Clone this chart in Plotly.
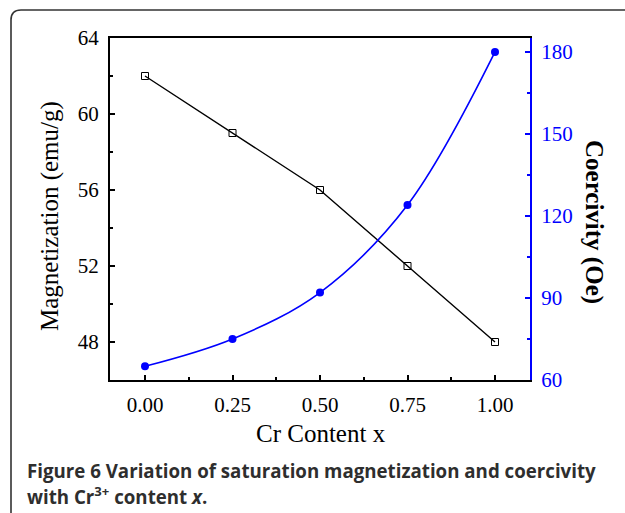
import plotly.graph_objects as go

# Cr content and the measured properties
cr_content = [0.00, 0.25, 0.50, 0.75, 1.00]
magnetization = [62, 59, 56, 52, 48]        # emu/g
coercivity = [65, 75, 92, 124, 180]         # Oe

x_ticks = [0.00, 0.25, 0.50, 0.75, 1.00]
mag_ticks = [48, 52, 56, 60, 64]
coer_ticks = [60, 90, 120, 150, 180]

W, H = 625, 513
L, R, T, B = 110, 95, 38, 133
PW, PH = W - L - R, H - T - B


def px(xp):
    return (xp - L) / PW


def py(yp):
    return (H - B - yp) / PH


BLUE = "#0000ff"
SERIF = "Liberation Serif"

fig = go.Figure()

fig.add_trace(go.Scatter(
    x=cr_content, y=magnetization, mode="lines+markers",
    line=dict(color="black", width=1.4),
    marker=dict(symbol="square-open", size=7, color="black", line=dict(width=1)),
    yaxis="y", showlegend=False, cliponaxis=False,
))

fig.add_trace(go.Scatter(
    x=cr_content, y=coercivity, mode="lines+markers",
    line=dict(color=BLUE, width=1.6, shape="spline", smoothing=1.0),
    marker=dict(symbol="circle", size=8, color=BLUE),
    yaxis="y2", showlegend=False, cliponaxis=False,
))

tickfont = dict(family=SERIF, size=21, color="black")
common = dict(ticks="inside", ticklen=5, tickwidth=1.5, showgrid=False,
              zeroline=False, showline=True, linewidth=2, ticklabelstandoff=5)

fig.update_layout(
    width=W, height=H,
    margin=dict(l=L, r=R, t=T, b=B),
    paper_bgcolor="white", plot_bgcolor="white",
    xaxis=dict(
        range=[-0.1, 1.1], tickvals=x_ticks, tickformat=".2f", tickcolor="black",
        minor=dict(ticks="inside", ticklen=3, tickwidth=1.5, tickcolor="black",
                   dtick=0.125, tick0=0),
        linecolor="black", mirror=True, tickfont=tickfont, **common,
    ),
    yaxis=dict(
        range=[46, 64], tickvals=mag_ticks, tickcolor="black",
        minor=dict(ticks="inside", ticklen=3, tickwidth=1.5, tickcolor="black",
                   dtick=2, tick0=46),
        linecolor="black", tickfont=tickfont, **common,
    ),
    yaxis2=dict(
        range=[60, 185.1], tickvals=coer_ticks, overlaying="y", side="right",
        tickcolor=BLUE,
        minor=dict(ticks="inside", ticklen=3, tickwidth=1.5, tickcolor=BLUE,
                   dtick=15, tick0=60),
        linecolor=BLUE, tickfont=dict(family=SERIF, size=21, color=BLUE),
        **common,
    ),
)

# rounded panel border (top-left corner, open to the right and bottom)
r = 10
x0, y0 = 11, 10
path = (
    f"M {px(x0)} {py(H + 5)} "
    f"L {px(x0)} {py(y0 + r)} "
    f"Q {px(x0)} {py(y0)} {px(x0 + r)} {py(y0)} "
    f"L {px(W + 5)} {py(y0)}"
)
fig.add_shape(type="path", path=path, xref="paper", yref="paper",
              line=dict(color="#333333", width=1.6), layer="below")

annotations = [
    dict(text="Magnetization (emu/g)", x=px(50), y=py(216), textangle=-90,
         font=dict(family=SERIF, size=25, color="black")),
    dict(text="<b>Coercivity (Oe)</b>", x=px(594), y=py(222), textangle=90,
         font=dict(family=SERIF, size=25, color="black")),
    dict(text="Cr Content x", x=px(321), y=py(433),
         font=dict(family=SERIF, size=25, color="black")),
]
for a in annotations:
    fig.add_annotation(xref="paper", yref="paper", showarrow=False,
                       xanchor="center", yanchor="middle", **a)

caption_font = dict(family="Open Sans", size=18.7, color="#2e2e2e")
fig.add_annotation(
    xref="paper", yref="paper", showarrow=False, xanchor="left", yanchor="middle",
    x=px(25), y=py(470), font=caption_font,
    text="<b>Figure 6 Variation of saturation magnetization and coercivity</b>",
)
fig.add_annotation(
    xref="paper", yref="paper", showarrow=False, xanchor="left", yanchor="middle",
    x=px(25), y=py(496), font=caption_font,
    text="<b>with Cr<sup>3+</sup> content <i>x</i>.</b>",
)

fig.write_html("out.html")
